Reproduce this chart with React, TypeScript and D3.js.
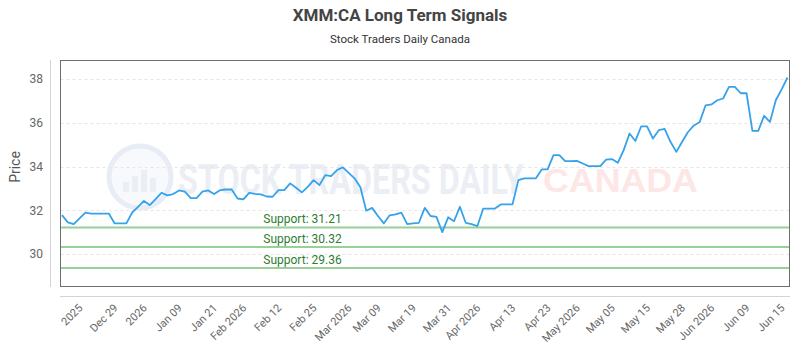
import { useRef, useEffect } from "react";
import * as d3 from "d3";

// Daily closes, oldest first
const PRICES = [
  31.78, 31.45, 31.37, 31.63, 31.89, 31.85, 31.85, 31.85, 31.85, 31.4,
  31.4, 31.4, 31.9, 32.16, 32.43, 32.24, 32.51, 32.8, 32.68, 32.74,
  32.91, 32.85, 32.56, 32.56, 32.85, 32.91, 32.74, 32.92, 32.95, 32.95,
  32.54, 32.5, 32.8, 32.75, 32.73, 32.63, 32.62, 32.92, 32.92, 33.23,
  33.03, 32.82, 33.07, 33.38, 33.15, 33.61, 33.56, 33.84, 33.96, 33.71,
  33.46, 33.05, 31.98, 32.11, 31.74, 31.4, 31.77, 31.81, 31.89, 31.37,
  31.4, 31.43, 32.11, 31.74, 31.7, 31.0, 31.68, 31.5, 32.16, 31.43,
  31.37, 31.28, 32.08, 32.08, 32.08, 32.27, 32.27, 32.27, 33.38, 33.46,
  33.46, 33.46, 33.87, 33.87, 34.52, 34.52, 34.25, 34.25, 34.26, 34.14,
  34.02, 34.02, 34.02, 34.32, 34.34, 34.17, 34.75, 35.51, 35.17, 35.84,
  35.84, 35.28, 35.66, 35.72, 35.13, 34.67, 35.13, 35.58, 35.88, 36.04,
  36.8, 36.84, 37.03, 37.11, 37.64, 37.64, 37.35, 37.35, 35.63, 35.63,
  36.32, 36.04, 37.03, 37.53, 38.07,
];

// x-axis labels and the point each one sits on
const TICK_LABELS = [
  "2025", "Dec 29", "2026", "Jan 09", "Jan 21", "Feb 2026", "Feb 12", "Feb 25",
  "Mar 2026", "Mar 09", "Mar 19", "Mar 31", "Apr 2026", "Apr 13", "Apr 23",
  "May 2026", "May 05", "May 15", "May 28", "Jun 2026", "Jun 09", "Jun 15",
];
const TICK_INDEX = [3, 9, 14, 20, 26, 31, 37, 43, 49, 54, 60, 66, 71, 77, 83, 88, 94, 100, 106, 111, 117, 123];

const SUPPORTS = [31.21, 30.32, 29.36];
const Y_TICKS = [30, 32, 34, 36, 38];
const Y_DOMAIN = [28.54, 38.87];

const FONT = "Roboto, sans-serif";

export default function App() {
  const svgRef = useRef<SVGSVGElement>(null);

  useEffect(() => {
    if (!svgRef.current) return;
    const svg = d3.select(svgRef.current);
    svg.selectAll("*").remove();

    const box = { left: 60.5, right: 789.5, top: 60.5, bottom: 286.5 };

    const x = d3.scaleLinear().domain([0, PRICES.length - 1]).range([62, 787.5]);
    const y = d3.scaleLinear().domain(Y_DOMAIN).range([286, 60]);

    svg.append("rect").attr("width", 800).attr("height", 350).attr("fill", "#fff");

    // Title block
    svg.append("text").attr("x", 400).attr("y", 21).attr("text-anchor", "middle")
      .style("font-family", FONT).style("font-size", "17px").style("font-weight", "700").style("fill", "#444")
      .text("XMM:CA Long Term Signals");
    svg.append("text").attr("x", 400).attr("y", 43).attr("text-anchor", "middle")
      .style("font-family", FONT).style("font-size", "11.5px").style("fill", "#333")
      .text("Stock Traders Daily Canada");

    // Watermark: logo ring + brand text, squeezed horizontally to a fixed width
    const wm = svg.append("g");
    wm.append("circle").attr("cx", 140).attr("cy", 177).attr("r", 31)
      .attr("fill", "#f7f9fc").attr("stroke", "#e8ecf4").attr("stroke-width", 5);
    [[-14, 10], [-5, 16], [4, 22], [13, 14]].forEach(([dx, h]) => {
      wm.append("rect").attr("x", 140 + dx - 3).attr("y", 192 - h).attr("width", 6).attr("height", h)
        .attr("fill", "#eaeef5");
    });
    const squeeze = (sel: d3.Selection<SVGTextElement, unknown, null, undefined>, x0: number, y0: number, w: number) => {
      const len = sel.node()!.getComputedTextLength() || w;
      sel.attr("transform", `translate(${x0},${y0}) scale(${w / len},1)`);
    };
    const brand = wm.append("text")
      .style("font-family", FONT).style("font-size", "43px").style("font-weight", "700").style("fill", "#ebeff5")
      .text("STOCK TRADERS DAILY");
    squeeze(brand, 178, 194, 346);
    const canada = wm.append("text")
      .style("font-family", "'Liberation Sans', Arial, sans-serif").style("font-size", "34px").style("font-weight", "700")
      .style("fill", "#fde6e6")
      .text("CANADA");
    squeeze(canada, 543, 192, 155);

    // Horizontal grid
    svg.append("g").selectAll("line").data(Y_TICKS).enter().append("line")
      .attr("x1", box.left).attr("x2", box.right)
      .attr("y1", (d) => Math.round(y(d)) + 0.5).attr("y2", (d) => Math.round(y(d)) + 0.5)
      .attr("stroke", "#e6e6e6").attr("stroke-dasharray", "3,3");

    // Support levels
    svg.append("g").selectAll("line").data(SUPPORTS).enter().append("line")
      .attr("x1", box.left).attr("x2", box.right)
      .attr("y1", (d) => y(d)).attr("y2", (d) => y(d))
      .attr("stroke", "#98d098").attr("stroke-width", 2);
    svg.append("g").selectAll("text").data(SUPPORTS).enter().append("text")
      .attr("x", 302.5).attr("y", (d) => y(d) - 4.5).attr("text-anchor", "middle")
      .style("font-family", FONT).style("font-size", "12px").style("fill", "#2e7d32")
      .text((d) => `Support: ${d.toFixed(2)}`);

    // Price line
    const line = d3.line<number>().x((_, i) => x(i)).y((d) => y(d));
    svg.append("path").datum(PRICES).attr("d", line)
      .attr("fill", "none").attr("stroke", "#36a2eb").attr("stroke-width", 1.8)
      .attr("stroke-linejoin", "round");

    // Plot frame and offset axis lines
    svg.append("rect").attr("x", box.left).attr("y", box.top)
      .attr("width", box.right - box.left).attr("height", box.bottom - box.top)
      .attr("fill", "none").attr("stroke", "#6e6e6e");
    svg.append("line").attr("x1", 50.5).attr("x2", 50.5).attr("y1", 60).attr("y2", 287)
      .attr("stroke", "#d4d4d4");
    svg.append("line").attr("x1", 60).attr("x2", 790).attr("y1", 296.5).attr("y2", 296.5)
      .attr("stroke", "#d4d4d4");

    // y tick labels
    svg.append("g").selectAll("text").data(Y_TICKS).enter().append("text")
      .attr("x", 43).attr("y", (d) => y(d)).attr("dy", "0.35em").attr("text-anchor", "end")
      .style("font-family", FONT).style("font-size", "12px").style("fill", "#666")
      .text((d) => d);

    svg.append("text").attr("transform", "translate(20,167) rotate(-90)").attr("text-anchor", "middle")
      .style("font-family", FONT).style("font-size", "14px").style("fill", "#555")
      .text("Price");

    // x tick labels, rotated
    svg.append("g").selectAll("text").data(TICK_LABELS).enter().append("text")
      .attr("transform", (_, i) => `translate(${x(TICK_INDEX[i]) + 1},306) rotate(-45)`)
      .attr("dy", "0.35em").attr("text-anchor", "end")
      .style("font-family", FONT).style("font-size", "11px").style("fill", "#666")
      .text((d) => d);

    return () => {
      svg.selectAll("*").remove();
    };
  }, []);

  return (
    <svg ref={svgRef} width={800} height={350} style={{ position: "absolute", left: 0, top: 0 }} />
  );
}
